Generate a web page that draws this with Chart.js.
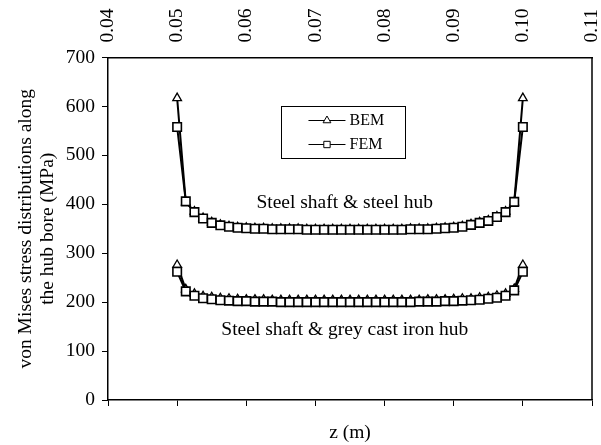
<!DOCTYPE html>
<html>
<head>
<meta charset="utf-8">
<script src="https://cdn.jsdelivr.net/npm/chart.js@4/dist/chart.umd.min.js"></script>
<style>
  html, body { margin: 0; padding: 0; background: #fff; }
  #wrap { width: 601px; height: 445px; }
</style>
</head>
<body>
<div id="wrap"><canvas id="c" width="601" height="445"></canvas></div>
<script>
// Axial positions along the hub bore (m)
const zNodes = [
  0.05000, 0.05125, 0.05250, 0.05375, 0.05500, 0.05625, 0.05750, 0.05875, 0.06000, 0.06125,
  0.06250, 0.06375, 0.06500, 0.06625, 0.06750, 0.06875, 0.07000, 0.07125, 0.07250, 0.07375,
  0.07500, 0.07625, 0.07750, 0.07875, 0.08000, 0.08125, 0.08250, 0.08375, 0.08500, 0.08625,
  0.08750, 0.08875, 0.09000, 0.09125, 0.09250, 0.09375, 0.09500, 0.09625, 0.09750, 0.09875,
  0.10000
];

// Steel shaft & steel hub (MPa)
const bemSteelHub = [
  617, 404, 385, 372, 363, 358, 355, 353, 352, 351,
  351, 350, 350, 350, 350, 349, 349, 349, 349, 349,
  349, 349, 349, 349, 349, 349, 349, 350, 350, 350,
  351, 352, 353, 355, 359, 363, 367, 375, 385, 404,
  617
];
const femSteelHub = [
  558, 406, 384, 371, 362, 357, 354, 352, 351, 350,
  350, 349, 349, 349, 349, 348, 348, 348, 348, 348,
  348, 348, 348, 348, 348, 348, 348, 349, 349, 349,
  350, 351, 352, 354, 358, 362, 366, 374, 384, 405,
  558
];

// Steel shaft & grey cast iron hub (MPa)
const bemGreyIron = [
  276, 226, 217, 212, 210, 208, 207, 206, 205, 205,
  205, 204, 204, 204, 204, 204, 204, 204, 204, 204,
  204, 204, 204, 204, 204, 204, 204, 204, 204, 205,
  205, 205, 206, 207, 207, 209, 210, 213, 217, 227,
  276
];
const femGreyIron = [
  262, 222, 213, 208, 206, 204, 203, 202, 202, 201,
  201, 201, 200, 200, 200, 200, 200, 200, 200, 200,
  200, 200, 200, 200, 200, 200, 200, 200, 201, 201,
  201, 202, 202, 203, 204, 205, 207, 209, 213, 224,
  262
];

const zTicks = [0.04, 0.05, 0.06, 0.07, 0.08, 0.09, 0.10, 0.11];
const stressTicks = [0, 100, 200, 300, 400, 500, 600, 700];
const seriesNames = ['BEM', 'FEM'];
const caseLabels = ['Steel shaft & steel hub', 'Steel shaft & grey cast iron hub'];
const yTitle = ['von Mises stress distributions along', 'the hub bore (MPa)'];
const xTitle = 'z (m)';

const SERIF = "'Liberation Serif', 'Times New Roman', serif";
const INK = '#000';

function toPoints(z, s) {
  return z.map((v, i) => ({ x: v, y: s[i] }));
}

const bemStyle = {
  borderColor: INK, borderWidth: 2, backgroundColor: '#fff',
  pointStyle: 'triangle', pointRadius: 5, pointBorderWidth: 1.3,
  pointBackgroundColor: '#fff', pointBorderColor: INK, order: 1
};
const femStyle = {
  borderColor: INK, borderWidth: 2, backgroundColor: '#fff',
  pointStyle: 'rect', pointRadius: 6, pointBorderWidth: 1.6,
  pointBackgroundColor: '#fff', pointBorderColor: INK, order: 0
};

// Draws a marker symbol for the legend
function marker(ctx, style, x, y, r) {
  ctx.save();
  ctx.fillStyle = '#fff';
  ctx.strokeStyle = INK;
  ctx.lineWidth = 1;
  ctx.beginPath();
  if (style === 'triangle') {
    ctx.moveTo(x, y - r);
    ctx.lineTo(x + r * 0.866, y + r * 0.5);
    ctx.lineTo(x - r * 0.866, y + r * 0.5);
    ctx.closePath();
  } else {
    const h = r * Math.SQRT1_2;
    ctx.rect(x - h, y - h, 2 * h, 2 * h);
  }
  ctx.fill();
  ctx.stroke();
  ctx.restore();
}

const framePlugin = {
  id: 'frame',
  afterDraw(chart) {
    const { ctx, chartArea: a, scales } = chart;
    ctx.save();
    // right edge of the plot frame
    ctx.strokeStyle = INK;
    ctx.lineWidth = 1.5;
    ctx.beginPath();
    ctx.moveTo(a.right, a.top);
    ctx.lineTo(a.right, a.bottom);
    ctx.stroke();

    // case labels
    const x = scales.x, y = scales.y;
    ctx.fillStyle = INK;
    ctx.font = '19.5px ' + SERIF;
    ctx.textAlign = 'center';
    ctx.textBaseline = 'alphabetic';
    ctx.fillText(caseLabels[0], x.getPixelForValue(0.07423), y.getPixelForValue(392));
    ctx.fillText(caseLabels[1], x.getPixelForValue(0.07425), y.getPixelForValue(133));

    // legend box
    const bx0 = x.getPixelForValue(0.06509), bx1 = x.getPixelForValue(0.08302);
    const by0 = y.getPixelForValue(601), by1 = y.getPixelForValue(495);
    ctx.lineWidth = 1;
    ctx.strokeRect(Math.round(bx0) + 0.5, Math.round(by0) + 0.5,
                   Math.round(bx1 - bx0), Math.round(by1 - by0));
    const styles = ['triangle', 'rect'];
    const rowY = [by0 + 14, by0 + 38];
    ctx.font = '16px ' + SERIF;
    ctx.textAlign = 'left';
    ctx.textBaseline = 'middle';
    seriesNames.forEach((name, i) => {
      const ly = Math.round(rowY[i]) + 0.5;
      ctx.beginPath();
      ctx.moveTo(bx0 + 27, ly);
      ctx.lineTo(bx0 + 64, ly);
      ctx.stroke();
      marker(ctx, styles[i], bx0 + 45.5, ly, 4.5);
      ctx.fillText(name, bx0 + 68, rowY[i] + 1);
    });
    ctx.restore();
  }
};

const tickFont = { family: SERIF, size: 19.5 };
const titleFont = { family: SERIF, size: 19.5, lineHeight: 1.12 };

function noSidePadding(s) {
  s.paddingLeft = 0;
  s.paddingRight = 0;
}

new Chart(document.getElementById('c'), {
  type: 'line',
  data: {
    datasets: [
      Object.assign({ label: seriesNames[0], data: toPoints(zNodes, bemSteelHub) }, bemStyle),
      Object.assign({ label: seriesNames[1], data: toPoints(zNodes, femSteelHub) }, femStyle),
      Object.assign({ label: seriesNames[0], data: toPoints(zNodes, bemGreyIron) }, bemStyle),
      Object.assign({ label: seriesNames[1], data: toPoints(zNodes, femGreyIron) }, femStyle)
    ]
  },
  options: {
    responsive: false,
    animation: false,
    devicePixelRatio: 1,
    layout: { padding: { top: 0, right: 9, bottom: 0, left: 0 } },
    plugins: { legend: { display: false }, tooltip: { enabled: false } },
    elements: { line: { tension: 0 } },
    scales: {
      x: {
        type: 'linear', position: 'bottom', min: 0.04, max: 0.11,
        afterBuildTicks: s => { s.ticks = zTicks.map(v => ({ value: v })); },
        afterFit: s => { s.height = 45; noSidePadding(s); },
        grid: { drawOnChartArea: false, drawTicks: true, tickLength: 6, color: INK, lineWidth: 1 },
        border: { display: true, color: INK, width: 1.5 },
        ticks: { autoSkip: false, maxRotation: 0, callback: () => '' },
        title: { display: true, text: xTitle, color: INK, font: titleFont, padding: { top: 0, bottom: 1 } }
      },
      xTop: {
        type: 'linear', position: 'top', min: 0.04, max: 0.11,
        afterBuildTicks: s => { s.ticks = zTicks.map(v => ({ value: v })); },
        afterFit: s => { s.height = 57.5; noSidePadding(s); },
        grid: { drawOnChartArea: false, drawTicks: false },
        border: { display: true, color: INK, width: 1.5 },
        ticks: {
          autoSkip: false, minRotation: 90, maxRotation: 90, padding: 15, labelOffset: 23.4,
          color: INK, font: tickFont, callback: v => Number(v).toFixed(2)
        }
      },
      y: {
        type: 'linear', position: 'left', min: 0, max: 700,
        afterBuildTicks: s => { s.ticks = stressTicks.map(v => ({ value: v })); },
        afterFit: s => { s.width = 108; },
        grid: { drawOnChartArea: false, drawTicks: true, tickLength: 6, color: INK, lineWidth: 1 },
        border: { display: true, color: INK, width: 1.5 },
        ticks: { padding: 7, color: INK, font: tickFont, callback: v => String(v) },
        title: { display: true, text: yTitle, color: INK, font: titleFont, padding: { top: 15, bottom: 0 } }
      }
    }
  },
  plugins: [framePlugin]
});
</script>
</body>
</html>
